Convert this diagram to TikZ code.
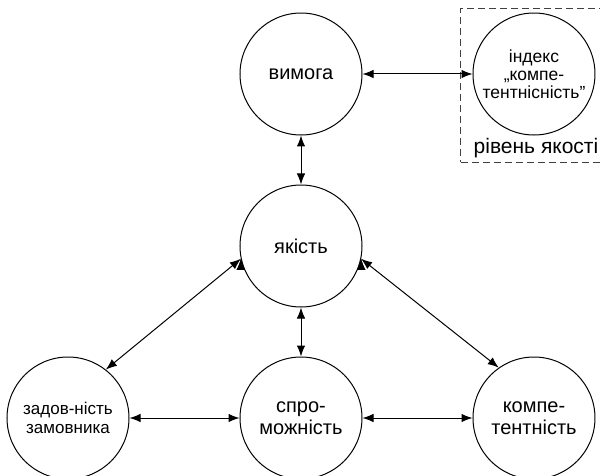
\documentclass[tikz,border=0pt]{standalone}
\usepackage{fontspec}
\setsansfont{Liberation Sans}
\usetikzlibrary{shapes,arrows.meta,calc,fit}

\begin{document}
\begin{tikzpicture}[
  font=\sffamily,
  every matrix/.style={ampersand replacement=\&,column sep=110pt,row sep=49pt},
  concept/.style={draw,line width=1pt,circle,minimum size=122pt,inner sep=0pt,align=center,font=\sffamily\fontsize{20}{21.5}\selectfont},
  conceptS/.style={concept,font=\sffamily\fontsize{17}{18.5}\selectfont},
  conceptXS/.style={concept,font=\sffamily\fontsize{17.5}{18}\selectfont},
  levelBox/.style={draw=black!75,line width=1pt,dash pattern=on 7pt off 4pt,inner xsep=12pt,inner ysep=4pt},
  levelLabel/.style={font=\sffamily\fontsize{21}{23}\selectfont,inner sep=0pt},
  link/.style={<->,>={Latex[length=11pt,width=8.5pt]},line width=1pt,black}]

  % page size of the reference
  \useasboundingbox (0,0) rectangle (600pt,-476pt);

  % Position the concepts using a matrix layout
  \matrix[matrix anchor=vym.center] at (301pt,-74pt) {
   \& \node[concept] (vym) {вимога}; \& \node[conceptXS] (ind) {індекс\\„компе-\\тентнісність”}; \\
   \& \node[concept] (jak) {якість}; \& \\
  \node[conceptS] (zad) {задов-ність\\замовника}; \& \node[concept] (spr) {спро-\\можність}; \& \node[concept] (komp) {компе-\\тентність}; \\
  };

  % quality level box
  \node[levelLabel,anchor=base] (lvl) at ($(ind.south)+(2pt,-18pt)$) {рівень якості};
  \node[levelBox,fit=(ind)(lvl)] (box) {};

  % links
  \draw [link] (vym) edge (ind);
  \draw [link] (vym) edge (jak);
  \draw [link] (jak) edge (spr);
  \draw [link] (jak.192) edge (zad.52);
  \draw [link] (jak.-12) edge (komp.125);
  \draw [link] (zad) edge (spr);
  \draw [link] (spr) edge (komp);

\end{tikzpicture}
\end{document}
